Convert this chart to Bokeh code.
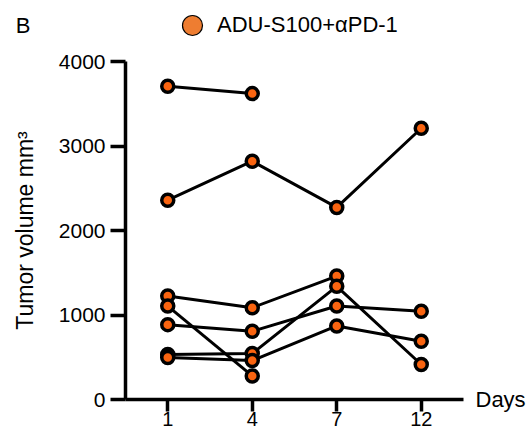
from bokeh.plotting import figure
from bokeh.models import (FactorRange, Range1d, Legend, LegendItem,
                          LinearAxis, FixedTicker)
from bokeh.layouts import column
from bokeh.embed import file_html
from bokeh.resources import INLINE

# ---- data ----
days = ["1", "4", "7", "12"]
mouse1 = [3707, 3620]
mouse2 = [2359, 2820, 2273, 3210]
mouse3 = [1225, 1087, 1461]
mouse4 = [1106, 279]
mouse5 = [886, 807, 1106, 1044]
mouse6 = [532, 544, 1339, 414]
mouse7 = [496, 461, 870, 689]
series = [mouse1, mouse2, mouse3, mouse4, mouse5, mouse6, mouse7]
group_name = "ADU-S100+αPD-1"
panel_letter = "B"
y_ticks = [0, 1000, 2000, 3000, 4000]
x_title = "Days"
y_title = "Tumor volume mm³"

FONT = "Liberation Sans"
ORANGE = "#FA6410"
LEGEND_ORANGE = "#EE7D31"

# ---------- header strip: panel letter + legend ----------
head = figure(width=529, height=50, x_range=Range1d(0, 1), y_range=Range1d(0, 2),
              x_axis_type=None, y_axis_type=None,
              output_backend="svg", toolbar_location=None,
              min_border_left=125, min_border_right=66, min_border_top=0, min_border_bottom=0)
head.grid.visible = False
head.outline_line_color = None

# legend proxy (no visible point in the plot area)
dummy = head.scatter(x=[float("nan")], y=[float("nan")], size=20, fill_color=LEGEND_ORANGE,
                     line_color="black", line_width=1.2)
legend = Legend(items=[LegendItem(label=group_name, renderers=[dummy])],
                location=(42, 0), orientation="horizontal",
                glyph_width=50, glyph_height=50, label_standoff=-14,
                padding=0, margin=0, border_line_color=None,
                background_fill_alpha=0,
                label_text_font=FONT, label_text_font_size="22px",
                label_text_color="black")
head.add_layout(legend, "center")

letter_axis = LinearAxis(ticker=FixedTicker(ticks=[1]),
                         major_label_overrides={1: panel_letter},
                         axis_line_color=None, major_tick_line_color=None,
                         minor_tick_line_color=None, major_tick_out=0, major_tick_in=0,
                         major_label_standoff=95,
                         major_label_text_font=FONT, major_label_text_font_size="22px",
                         major_label_text_color="black")
head.add_layout(letter_axis, "left")

# ---------- main chart ----------
p = figure(width=529, height=384,
           x_range=FactorRange(factors=days, range_padding=0),
           y_range=Range1d(0, 4000),
           output_backend="svg", toolbar_location=None,
           min_border_left=125, min_border_right=66,
           min_border_top=11, min_border_bottom=35)

p.grid.visible = False
p.outline_line_color = None

for s in series:
    p.line(x=days[:len(s)], y=s, line_color="black", line_width=3)
for s in series:
    p.scatter(x=days[:len(s)], y=s, size=12, fill_color=ORANGE,
              line_color="black", line_width=3.5)

for ax in (p.xaxis[0], p.yaxis[0]):
    ax.axis_line_width = 3.5
    ax.axis_line_color = "black"
    ax.major_tick_line_width = 3.5
    ax.major_tick_line_color = "black"
    ax.major_tick_in = 0
    ax.minor_tick_line_color = None
    ax.major_label_text_font = FONT
    ax.major_label_text_color = "black"

p.yaxis.ticker = y_ticks
p.yaxis.major_tick_out = 15
p.yaxis.major_label_text_font_size = "21px"
p.yaxis.major_label_standoff = 5
p.yaxis.axis_label = y_title
p.yaxis.axis_label_text_font = FONT
p.yaxis.axis_label_text_font_size = "23px"
p.yaxis.axis_label_text_font_style = "normal"
p.yaxis.axis_label_text_color = "black"
p.yaxis.axis_label_standoff = 18

p.xaxis.major_tick_out = 12
p.xaxis.major_label_text_font_size = "20px"
p.xaxis.major_label_standoff = 0

# "Days" at the right end of the x axis
days_axis = LinearAxis(ticker=FixedTicker(ticks=[0]),
                       major_label_overrides={0: x_title},
                       axis_line_color=None, major_tick_line_color=None,
                       minor_tick_line_color=None, major_tick_out=0, major_tick_in=0,
                       major_label_standoff=12,
                       major_label_text_font=FONT, major_label_text_font_size="22px",
                       major_label_text_color="black")
p.add_layout(days_axis, "right")

layout = column(head, p, spacing=0)
open("out.html", "w").write(file_html(layout, INLINE))
